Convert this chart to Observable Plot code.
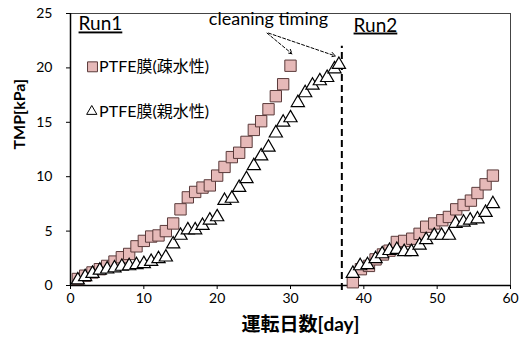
<!DOCTYPE html>
<html><head><meta charset="utf-8">
<script src="https://cdn.jsdelivr.net/npm/d3@7"></script>
<script src="https://cdn.jsdelivr.net/npm/@observablehq/plot@0.6"></script>
<style>body{margin:0;background:#fff}</style>
</head><body><div id="chart"></div>
<script>
// PTFE膜(疎水性) – squares
const phobicRun1Days = [1,2,3,4,5,6,7,8,9,10,11,12,13,14,15,16,17,18,19,20,21,22,23,24,25,26,27,28,29,30];
const phobicRun1TMP  = [0.6,0.9,1.2,1.5,1.8,2.2,2.6,2.9,3.6,4.1,4.5,4.6,5.0,5.7,7.0,8.1,8.6,9.0,9.2,10.1,10.9,11.8,12.2,13.2,14.3,15.1,16.2,17.4,18.5,20.2];
const phobicRun2Days = [38.5,39.6,40.7,41.6,42.6,43.5,44.5,45.5,46.6,47.6,48.5,49.6,50.7,51.6,52.6,53.6,54.6,55.5,56.6,57.6];
const phobicRun2TMP  = [0.3,1.5,1.8,2.4,2.85,3.2,4.0,4.1,4.3,4.75,5.4,5.7,6.0,6.3,7.0,7.4,7.8,8.5,9.3,10.1];
// PTFE膜(親水性) – triangles
const philicRun1Days = [1,2,3,4,5,6,7,8,9,10,11,12,13,14,15,16,17,18,19,20,21,22,23,24,25,26,27,28,29,30,31,32,33,34,35,36,36.6];
const philicRun1TMP  = [0.5,0.8,1.1,1.4,1.5,1.6,1.75,1.8,1.9,2.0,2.2,2.45,2.6,3.8,4.6,5.1,5.1,5.5,6.0,6.3,7.8,8.0,9.0,9.8,11.0,11.9,12.7,14.0,15.0,15.4,16.8,17.7,18.4,18.8,19.1,19.9,20.3];
const philicRun2Days = [38.5,39.5,40.5,41.6,42.5,43.5,44.5,45.5,46.5,47.6,48.5,49.6,50.6,51.6,52.5,53.6,54.5,55.5,56.6,57.6];
const philicRun2TMP  = [1.1,1.8,1.9,2.45,2.9,3.2,3.3,3.1,3.1,3.7,4.2,4.6,4.6,4.6,5.7,5.8,6.0,6.1,6.7,7.5];

const xTicks = [0,10,20,30,40,50,60];
const yTicks = [0,5,10,15,20,25];
const cleaningDay = 37;
const seriesNames = ["PTFE膜(疎水性)", "PTFE膜(親水性)"];
const runLabels = [{x:1.1, y:24.0, t:"Run1"}, {x:38.6, y:23.9, t:"Run2"}];
const noteText = "cleaning timing";
const noteAt = {x:27.0, y:24.5};
const noteArrows = [{x1:26.8,y1:23.2,x2:30.2,y2:21.3},{x1:27.0,y1:23.2,x2:36.1,y2:21.1}];
const legendAt = [{x:3.0,y:20.1,tx:3.9},{x:2.9,y:16.0,tx:3.9}];

const phobic = [...phobicRun1Days.map((d,i)=>({d,v:phobicRun1TMP[i]})), ...phobicRun2Days.map((d,i)=>({d,v:phobicRun2TMP[i]}))];
const philic = [...philicRun1Days.map((d,i)=>({d,v:philicRun1TMP[i]})), ...philicRun2Days.map((d,i)=>({d,v:philicRun2TMP[i]}))];

const font = "Lato, 'Noto Sans CJK JP', sans-serif";
const sqFill = "#e6b9b8", sqStroke = "#5a3a3a";

const chart = Plot.plot({
  width: 521, height: 347,
  marginLeft: 70, marginRight: 11, marginTop: 13, marginBottom: 62,
  style: {fontFamily: font, fontSize: "14px", color: "#000", background: "#fff", overflow: "visible"},
  x: {domain: [0, 60], label: null},
  y: {domain: [0, 25], label: null},
  marks: [
    Plot.frame({stroke: "#444", strokeWidth: 1}),
    Plot.axisX({ticks: xTicks, tickSize: 4, tickPadding: 4, label: null, fontSize: 14, stroke: "#000"}),
    Plot.axisY({ticks: yTicks, tickSize: 4, tickPadding: 14, label: null, fontSize: 14, stroke: "#000"}),
    Plot.ruleX([0], {stroke: "#000", strokeWidth: 1.5}),
    Plot.ruleY([0], {stroke: "#000", strokeWidth: 1.5}),
    Plot.ruleX([cleaningDay], {y1: -0.45, y2: 22.0, stroke: "#000", strokeWidth: 2, strokeDasharray: "7,4", clip: false}),
    Plot.dot(phobic, {x: "d", y: "v", symbol: "square", r: 6.4, fill: sqFill, stroke: sqStroke, strokeWidth: 1}),
    Plot.dot(philic, {x: "d", y: "v", symbol: "triangle", r: 4.9, fill: "#fff", stroke: "#000", strokeWidth: 1.2}),
    // legend
    Plot.dot([legendAt[0]], {x: "x", y: "y", symbol: "square", r: 5.6, fill: sqFill, stroke: sqStroke, strokeWidth: 1}),
    Plot.dot([legendAt[1]], {x: "x", y: "y", symbol: "triangle", r: 3.8, fill: "#fff", stroke: "#000", strokeWidth: 1}),
    Plot.text([legendAt[0]], {x: "tx", y: "y", text: () => seriesNames[0], textAnchor: "start", fontSize: 16}),
    Plot.text([legendAt[1]], {x: "tx", y: "y", text: () => seriesNames[1], textAnchor: "start", fontSize: 16}),
    // run labels
    Plot.text(runLabels, {x: "x", y: "y", text: "t", textAnchor: "start", fontSize: 19}),
    // cleaning timing
    Plot.text([noteAt], {x: "x", y: "y", text: () => noteText, fontSize: 18}),
    Plot.arrow(noteArrows, {x1: "x1", y1: "y1", x2: "x2", y2: "y2", bend: false, strokeDasharray: "3,2", strokeWidth: 1, headLength: 7, stroke: "#000"}),
    // axis titles
    Plot.text(["運転日数[day]"], {frameAnchor: "bottom", dx: 10, dy: 45, fontSize: 19, fontWeight: "bold"}),
    Plot.text(["TMP[kPa]"], {frameAnchor: "left", dx: -51, rotate: -90, fontSize: 16, fontWeight: "bold"})
  ]
});
d3.select(chart).selectAll("text").filter(function(){ return /^Run\d$/.test(this.textContent); })
  .attr("text-decoration", "underline");
document.getElementById("chart").appendChild(chart);
</script>
</body></html>
